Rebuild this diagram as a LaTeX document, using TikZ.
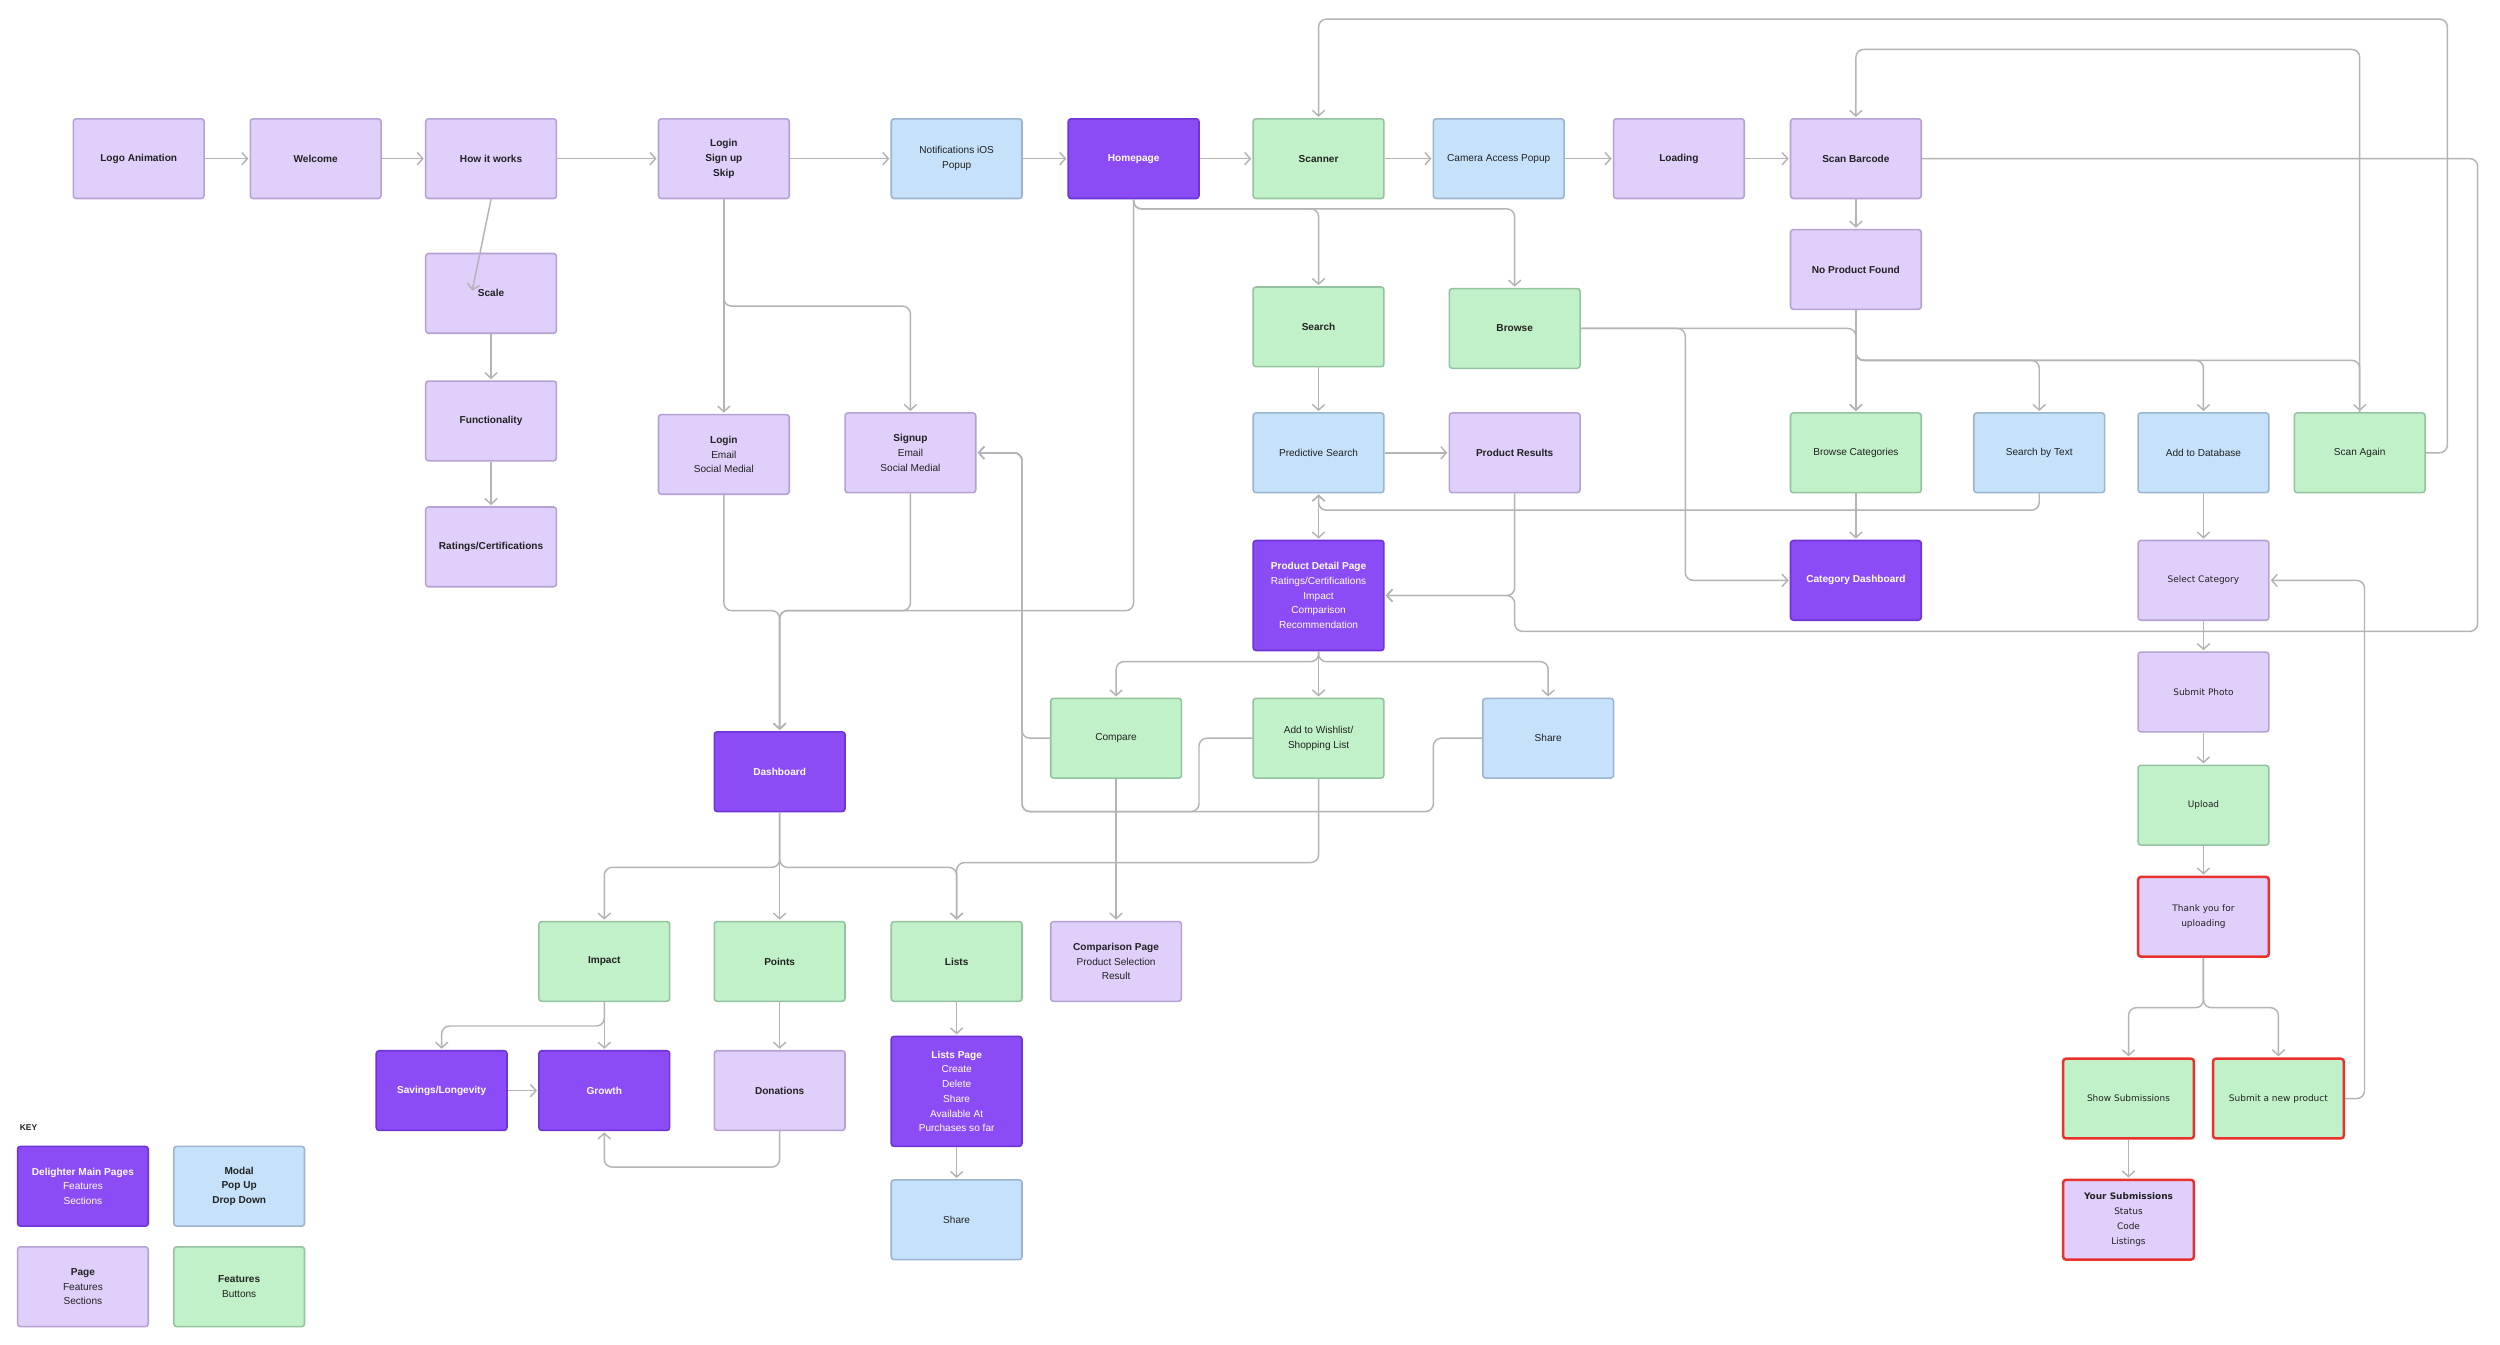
\documentclass[tikz,border=0pt]{standalone}
\usepackage{fontspec}
\setmainfont{Liberation Sans}
\newfontfamily\widefont{DejaVu Sans}
\usetikzlibrary{arrows.meta,calc}

\definecolor{mainfill}{HTML}{8B4CF6}
\definecolor{mainline}{HTML}{6D35D6}
\definecolor{pagefill}{HTML}{DFCFFA}
\definecolor{pageline}{HTML}{B6A2D2}
\definecolor{modalfill}{HTML}{C6E2FB}
\definecolor{modalline}{HTML}{9DB4CE}
\definecolor{featfill}{HTML}{C1F1C9}
\definecolor{featline}{HTML}{95C39F}
\definecolor{wireline}{HTML}{B4B4B4}
\definecolor{alertline}{HTML}{E8322B}
\definecolor{inktext}{HTML}{222222}

\begin{document}
\begin{tikzpicture}[x=0.05cm, y=-0.05cm,
    barb/.tip={Straight Barb[length=5pt,width=11pt]},
    box/.style={rectangle, rounded corners=2.5pt, line width=1.4pt, minimum width=4.1cm, minimum height=2.5cm, align=center, text=inktext, inner sep=2pt, font=\fontsize{9}{13.2}\selectfont},
    mainpage/.style={box, fill=mainfill, draw=mainline, text=white},
    page/.style={box, fill=pagefill, draw=pageline},
    modal/.style={box, fill=modalfill, draw=modalline},
    feature/.style={box, fill=featfill, draw=featline},
    tall/.style={minimum height=3.45cm},
    alert/.style={draw=alertline, line width=2.2pt},
    wide/.style={font=\widefont\fontsize{8}{13.3}\selectfont},
    wire/.style={draw=wireline, line width=1.3pt, rounded corners=7pt, shorten >=1pt, -barb}]

    \path[use as bounding box, fill=white] (0,0) rectangle (1568,843);

    % Nodes
    \node[page] (logo) at (87,99.5) {\textbf{Logo Animation}};
    \node[page] (welcome) at (198,99.5) {\textbf{Welcome}};
    \node[page] (howworks) at (308,99.5) {\textbf{How it works}};
    \node[page] (entry) at (454,99.5) {\textbf{Login}\\\textbf{Sign up}\\\textbf{Skip}};
    \node[modal] (notify) at (600,99.5) {Notifications iOS\\Popup};
    \node[mainpage] (home) at (711,99.5) {\textbf{Homepage}};
    \node[feature] (scanner) at (827,99.5) {\textbf{Scanner}};
    \node[modal] (camera) at (940,99.5) {Camera Access Popup};
    \node[page] (loading) at (1053,99.5) {\textbf{Loading}};
    \node[page] (barcode) at (1164,99.5) {\textbf{Scan Barcode}};

    \node[page] (scale) at (308,184) {\textbf{Scale}};
    \node[page] (function) at (308,264) {\textbf{Functionality}};
    \node[page] (ratings) at (308,343) {\textbf{Ratings/Certifications}};
    \node[page] (login) at (454,285) {\textbf{Login}\\Email\\Social Medial};
    \node[page] (signup) at (571,284) {\textbf{Signup}\\Email\\Social Medial};

    \node[feature] (search) at (827,205) {\textbf{Search}};
    \node[feature] (browse) at (950,206) {\textbf{Browse}};
    \node[page] (noproduct) at (1164,169) {\textbf{No Product Found}};
    \node[modal] (predict) at (827,284) {Predictive Search};
    \node[page] (results) at (950,284) {\textbf{Product Results}};
    \node[feature] (browsecat) at (1164,284) {Browse Categories};
    \node[modal] (bytext) at (1279,284) {Search by Text};
    \node[modal] (adddb) at (1382,284) {Add to Database};
    \node[feature] (scanagain) at (1480,284) {Scan Again};
    \node[mainpage, tall] (detail) at (827,373.5) {\textbf{Product Detail Page}\\Ratings/Certifications\\Impact\\Comparison\\Recommendation};
    \node[mainpage] (catdash) at (1164,364) {\textbf{Category Dashboard}};

    \node[page, wide] (selectcat) at (1382,364) {Select Category};
    \node[page, wide] (photo) at (1382,434) {Submit Photo};
    \node[feature, wide] (upload) at (1382,505) {Upload};
    \node[page, wide, alert] (thanks) at (1382,575) {Thank you for\\uploading};
    \node[feature, wide, alert] (showsub) at (1335,689) {Show Submissions};
    \node[feature, wide, alert] (newprod) at (1429,689) {Submit a new product};
    \node[page, wide, alert] (yoursub) at (1335,765) {\textbf{Your Submissions}\\Status\\Code\\Listings};

    \node[mainpage] (dashboard) at (489,484) {\textbf{Dashboard}};
    \node[feature] (compare) at (700,463) {Compare};
    \node[feature] (wishlist) at (827,463) {Add to Wishlist/\\Shopping List};
    \node[modal] (share) at (971,463) {Share};
    \node[feature] (impact) at (379,603) {\textbf{Impact}};
    \node[feature] (points) at (489,603) {\textbf{Points}};
    \node[feature] (lists) at (600,603) {\textbf{Lists}};
    \node[page] (comparepage) at (700,603) {\textbf{Comparison Page}\\Product Selection\\Result};
    \node[mainpage] (savings) at (277,684) {\textbf{Savings/Longevity}};
    \node[mainpage] (growth) at (379,684) {\textbf{Growth}};
    \node[page] (donations) at (489,684) {\textbf{Donations}};
    \node[mainpage, tall] (listspage) at (600,684.5) {\textbf{Lists Page}\\Create\\Delete\\Share\\Available At\\Purchases so far};
    \node[modal] (listshare) at (600,765) {Share};

    % Key
    \node[anchor=west, text=inktext, font=\fontsize{7.5}{9}\selectfont\bfseries] (keytitle) at (10,707) {KEY};
    \node[mainpage] (keymain) at (52,744) {\textbf{Delighter Main Pages}\\Features\\Sections};
    \node[modal] (keymodal) at (150,744) {\textbf{Modal}\\\textbf{Pop Up}\\\textbf{Drop Down}};
    \node[page] (keypage) at (52,807) {\textbf{Page}\\Features\\Sections};
    \node[feature] (keyfeat) at (150,807) {\textbf{Features}\\Buttons};

    % Connections
    \draw[wire] (logo) -- (welcome);
    \draw[wire] (welcome) -- (howworks);
    \draw[wire] (howworks) -- (entry);
    \draw[wire] (entry) -- (notify);
    \draw[wire] (notify) -- (home);
    \draw[wire] (home) -- (scanner);
    \draw[wire] (scanner) -- (camera);
    \draw[wire] (camera) -- (loading);
    \draw[wire] (loading) -- (barcode);

    \coordinate (scaletip) at (296,183);
    \draw[wire] (howworks.south) -- (scaletip);
    \draw[wire] (scale) -- (function);
    \draw[wire] (function) -- (ratings);

    \draw[wire] (entry) -- (login);
    \draw[wire] (entry.south) -- (entry.south |- 0,192) -| (signup.north);
    \draw[wire] (login.south) -- (login.south |- 0,383) -| (dashboard.north);
    \draw[wire] (signup.south) -- (signup.south |- 0,383) -| (dashboard.north);
    \draw[wire] (home.south) -- (home.south |- 0,383) -| (dashboard.north);

    \draw[wire] (home.south) -- (home.south |- 0,131) -| (search.north);
    \draw[wire] (home.south) -- (home.south |- 0,131) -| (browse.north);
    \draw[wire] (scanagain.east) -| (1535,12) -| (scanner.north);
    \draw[wire] (scanagain.north) -- (scanagain.north |- 0,31) -| (barcode.north);

    \draw[wire] (barcode) -- (noproduct);
    \draw[wire] (noproduct) -- (browsecat);
    \draw[wire] (noproduct.south) -- (noproduct.south |- 0,226) -| (bytext.north);
    \draw[wire] (noproduct.south) -- (noproduct.south |- 0,226) -| (adddb.north);
    \draw[wire] (noproduct.south) -- (noproduct.south |- 0,226) -| (scanagain.north);
    \draw[wire] (browse.east) -| (browsecat.north);
    \draw[wire] (browse.east) -- (1057,206) |- (catdash.west);
    \draw[wire] (browsecat) -- (catdash);

    \draw[wire] (search) -- (predict);
    \draw[wire] (predict) -- (results);
    \draw[wire, barb-barb, shorten <=1pt] (predict) -- (detail);
    \draw[wire] (bytext.south) -- (bytext.south |- 0,320) -| (predict.south);
    \draw[wire] (results.south) |- (detail.east);
    \draw[wire] (barcode.east) -| (1554,396) -| (results.south |- detail.east) -- (detail.east);

    \draw[wire] (detail.south) -- (detail.south |- 0,415) -| (compare.north);
    \draw[wire] (detail) -- (wishlist);
    \draw[wire] (detail.south) -- (detail.south |- 0,415) -| (share.north);
    \draw[wire] (compare.west) -- (641,463) |- (signup.east);
    \draw[wire] (wishlist.west) -| (752,509) -| (641,463) |- (signup.east);
    \draw[wire] (share.west) -| (899,509) -| (641,463) |- (signup.east);
    \draw[wire] (compare) -- (comparepage);
    \draw[wire] (wishlist.south) -- (wishlist.south |- 0,541) -| (lists.north);

    \draw[wire] (dashboard.south) -- (dashboard.south |- 0,544) -| (impact.north);
    \draw[wire] (dashboard) -- (points);
    \draw[wire] (dashboard.south) -- (dashboard.south |- 0,544) -| (lists.north);
    \draw[wire] (impact) -- (growth);
    \draw[wire] (impact.south) -- (impact.south |- 0,643.5) -| (savings.north);
    \draw[wire] (savings) -- (growth);
    \draw[wire] (points) -- (donations);
    \draw[wire] (donations.south) -- (donations.south |- 0,732) -| (growth.south);
    \draw[wire] (lists) -- (listspage);
    \draw[wire] (listspage) -- (listshare);

    \draw[wire] (adddb) -- (selectcat);
    \draw[wire] (selectcat) -- (photo);
    \draw[wire] (photo) -- (upload);
    \draw[wire] (upload) -- (thanks);
    \draw[wire] (thanks.south) -- (thanks.south |- 0,632) -| (showsub.north);
    \draw[wire] (thanks.south) -- (thanks.south |- 0,632) -| (newprod.north);
    \draw[wire] (showsub) -- (yoursub);
    \draw[wire] (newprod.east) -- (1483,689) |- (selectcat.east);
\end{tikzpicture}
\end{document}
